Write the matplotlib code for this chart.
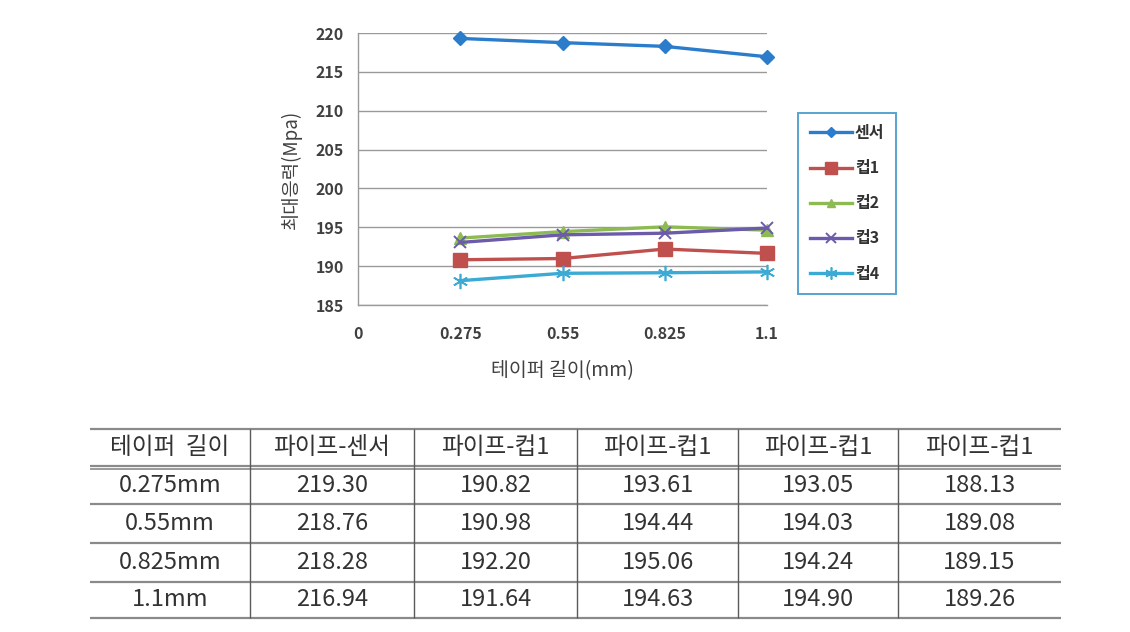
"""Max stress vs taper length: line chart with the value table below."""

import matplotlib

matplotlib.use("Agg")

import matplotlib.pyplot as plt  # noqa: E402

plt.rcParams["font.family"] = ["Noto Sans CJK KR", "DejaVu Sans"]

TAPER_MM = [0.275, 0.55, 0.825, 1.1]
X_TICKS = [0, 0.275, 0.55, 0.825, 1.1]
X_TICK_LABELS = ["0", "0.275", "0.55", "0.825", "1.1"]
Y_TICKS = [185, 190, 195, 200, 205, 210, 215, 220]

SENSOR = [219.30, 218.76, 218.28, 216.94]
CUP1 = [190.82, 190.98, 192.20, 191.64]
CUP2 = [193.61, 194.44, 195.06, 194.63]
CUP3 = [193.05, 194.03, 194.24, 194.90]
CUP4 = [188.13, 189.08, 189.15, 189.26]

SERIES_NAMES = ["센서", "컵1", "컵2", "컵3", "컵4"]
SERIES_VALUES = [SENSOR, CUP1, CUP2, CUP3, CUP4]

TABLE_HEADER = ["테이퍼  길이", "파이프-센서", "파이프-컵1", "파이프-컵1", "파이프-컵1", "파이프-컵1"]
TABLE_ROW_LABELS = ["0.275mm", "0.55mm", "0.825mm", "1.1mm"]

COLORS = ["#2B7CCB", "#C0504D", "#8DBB52", "#6B5BAA", "#3BAAD4"]
STYLES = [
    dict(marker="D", markersize=7),
    dict(marker="s", markersize=10),
    dict(marker="^", markersize=8),
    dict(marker="x", markersize=9, markeredgewidth=1.4),
    dict(marker=(6, 2, 0), markersize=11, markeredgewidth=1.2),
]

W, H = 1130, 632


def _fig_box(x0, y0, x1, y1):
    """Pixel box (top-left origin) to figure fraction rect."""
    return [x0 / W, 1 - y1 / H, (x1 - x0) / W, (y1 - y0) / H]


def main() -> None:
    fig = plt.figure(figsize=(W / 100, H / 100), dpi=100, facecolor="white")

    # ---- chart ----
    ax = fig.add_axes(_fig_box(358, 33, 767, 305))
    for name, values, color, style in zip(SERIES_NAMES, SERIES_VALUES, COLORS, STYLES):
        ax.plot(
            TAPER_MM,
            values,
            color=color,
            linewidth=2.4,
            markeredgecolor=color,
            clip_on=False,
            label=name,
            **style,
        )
    ax.set_xlim(0, 1.1)
    ax.set_ylim(185, 220)
    ax.set_xticks(X_TICKS)
    ax.set_xticklabels(X_TICK_LABELS)
    ax.set_yticks(Y_TICKS)
    ax.tick_params(length=0, labelsize=11.5, labelcolor="#404040", pad=10)
    for label in ax.get_xticklabels() + ax.get_yticklabels():
        label.set_fontweight("bold")
    ax.tick_params(axis="x", pad=15)
    ax.grid(axis="y", color="#9A9A9A", linewidth=1.0)
    ax.set_axisbelow(True)
    for side in ("top", "right"):
        ax.spines[side].set_visible(False)
    for side in ("left", "bottom"):
        ax.spines[side].set_color("#9A9A9A")
        ax.spines[side].set_linewidth(1.0)

    ax.set_xlabel("테이퍼 길이(mm)", fontsize=14, color="#404040", labelpad=13)
    ax.set_ylabel("최대응력(Mpa)", fontsize=13.5, color="#404040", labelpad=10)

    legend = ax.legend(
        loc="upper left",
        bbox_to_anchor=(798 / W, 1 - 113 / H),
        bbox_transform=fig.transFigure,
        borderaxespad=0,
        fontsize=11.5,
        handlelength=2.6,
        labelspacing=1.2,
        handletextpad=0.2,
        borderpad=0.75,
        fancybox=False,
        frameon=True,
        markerscale=0.8,
    )
    legend.get_frame().set_edgecolor("#2C8CC4")
    legend.get_frame().set_linewidth(1.4)
    for text in legend.get_texts():
        text.set_color("#333333")
        text.set_fontweight("bold")

    # ---- table ----
    col_edges = [90, 250, 414, 577, 738, 898, 1061]
    row_edges = [429, 466, 504, 543, 582, 618]
    tax = fig.add_axes([0, 0, 1, 1])
    tax.set_xlim(0, W)
    tax.set_ylim(H, 0)
    tax.axis("off")

    line_color = "#5A5A5A"
    for y in row_edges:
        tax.hlines(y, col_edges[0], col_edges[-1], color="#8A8A8A", linewidth=1.6)
    tax.hlines(row_edges[1] + 3, col_edges[0], col_edges[-1], color="#8A8A8A", linewidth=1.2)
    for x in col_edges[1:-1]:
        tax.vlines(x, row_edges[0], row_edges[-1], color=line_color, linewidth=1.0)

    rows = [TABLE_HEADER]
    for i, label in enumerate(TABLE_ROW_LABELS):
        rows.append([label] + [f"{series[i]:.2f}" for series in SERIES_VALUES])

    for r, row in enumerate(rows):
        yc = (row_edges[r] + row_edges[r + 1]) / 2
        for c, cell in enumerate(row):
            xc = (col_edges[c] + col_edges[c + 1]) / 2
            tax.text(
                xc,
                yc,
                cell,
                ha="center",
                va="center",
                fontsize=17,
                color="#333333",
            )

    fig.savefig("out.png", dpi=100, facecolor="white")
    plt.close(fig)


if __name__ == "__main__":
    main()
